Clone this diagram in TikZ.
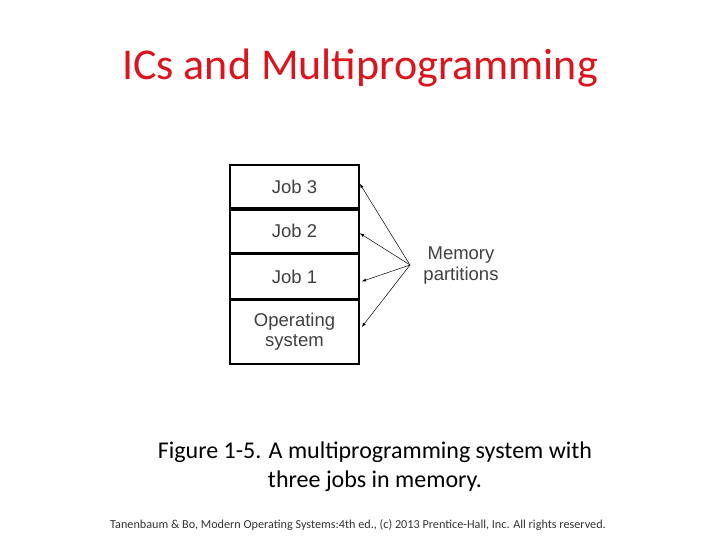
\documentclass[tikz,border=0pt]{standalone}
\usepackage{fontspec}
\setmainfont{Carlito}
\newfontfamily\figfont{Liberation Sans}
\definecolor{titlered}{RGB}{220,20,30}
\tikzset{
  part/.style={draw, line width=1.6pt, minimum width=129pt, font=\figfont\fontsize{18.5}{20}\selectfont, text=black!75, align=center, inner sep=0pt},
  ptr/.style={->, >=latex, line width=0.5pt}
}
\begin{document}
\begin{tikzpicture}[x=1pt,y=1pt]
  \useasboundingbox (0,0) rectangle (720,540);

  % Title
  % =====
  \node[text=titlered, font=\fontsize{44}{50}\selectfont] (title) at (360,472) {ICs and Multiprogramming};

  % Memory
  % ======
  \node[part, minimum height=64pt] (os) at (294.5,208) {Operating\\system};
  \node[part, minimum height=44pt, anchor=south] (job1) at (os.north) {Job 1};
  \node[part, minimum height=43pt, anchor=south] (job2) at (job1.north) {Job 2};
  \node[part, minimum height=43pt, anchor=south] (job3) at (job2.north) {Job 3};

  \node[font=\figfont\fontsize{18.5}{21}\selectfont, text=black!75, align=center] (mem) at (461,274) {Memory\\partitions};
  \coordinate (src) at (410,275);

  \draw[ptr] (src) -- ([yshift=3]job3.east);
  \draw[ptr] (src) -- ([yshift=-2]job2.east);
  \draw[ptr] (src) -- ([yshift=-5,xshift=2]job1.east);
  \draw[ptr] (src) -- ([yshift=5,xshift=2]os.east);

  % Caption
  % =======
  \node[font=\fontsize{24}{29}\selectfont, align=center] (cap) at (375,73) {Figure 1-5. A multiprogramming system with\\three jobs in memory.};
  \node[font=\fontsize{12.2}{14}\selectfont, text=black!80] (foot) at (358,15) {Tanenbaum \& Bo, Modern Operating Systems:4th ed., (c) 2013 Prentice-Hall, Inc. All rights reserved.};
\end{tikzpicture}
\end{document}
